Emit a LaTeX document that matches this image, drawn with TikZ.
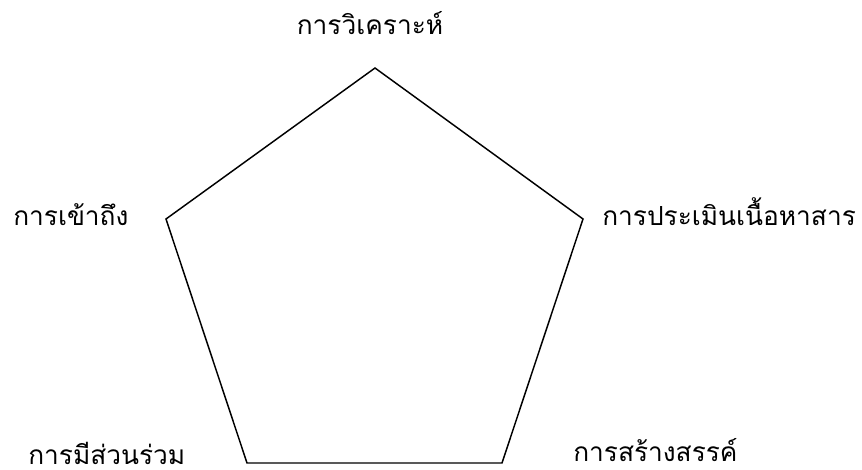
\documentclass[tikz,border=0pt]{standalone}
\usepackage{fontspec}
\newfontfamily\thaifont[Script=Thai]{Loma}
\tikzset{
  lbl/.style={font=\thaifont\fontsize{19.7}{22}\selectfont, inner sep=0pt, text=black},
  edge/.style={draw=black, line width=1.1pt, line join=miter}
}
\begin{document}
\begin{tikzpicture}[x=0.75pt,y=-0.75pt]
\useasboundingbox (0,0) rectangle (862,470);
\coordinate (T) at (375,68);
\coordinate (R) at (583,219);
\coordinate (BR) at (502,463);
\coordinate (BL) at (247,463);
\coordinate (L) at (166,219);
\draw[edge] (T) -- (R) -- (BR) -- (BL) -- (L) -- cycle;
\node[lbl, anchor=base] (top) at (370,35) {การวิเคราะห์};
\node[lbl, anchor=base west] (left) at (13,225) {การเข้าถึง};
\node[lbl, anchor=base west] (right) at (602,225) {การประเมินเนื้อหาสาร};
\node[lbl, anchor=base west, text depth=0pt] (bl) at (28,464) {การมีส่วนร่วม};
\node[lbl, anchor=base west, text depth=0pt] (br) at (573,461) {การสร้างสรรค์};
\end{tikzpicture}
\end{document}
